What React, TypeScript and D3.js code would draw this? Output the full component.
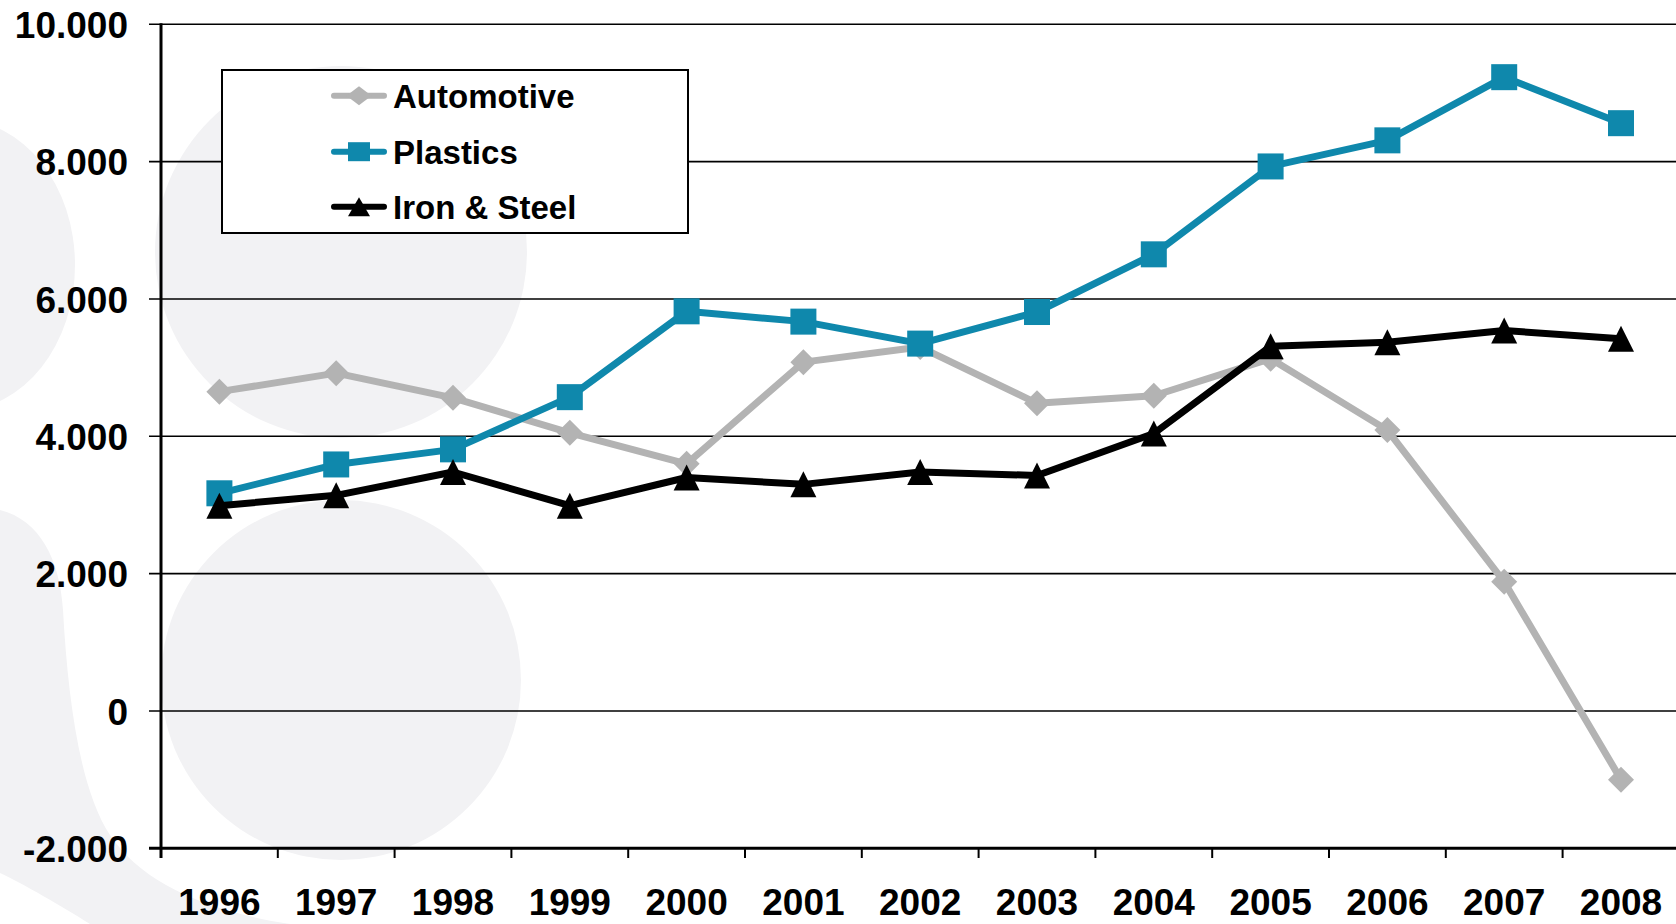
import React from "react";
import * as d3 from "d3";

const years = ["1996", "1997", "1998", "1999", "2000", "2001", "2002", "2003", "2004", "2005", "2006", "2007", "2008"];
const automotive = [4650, 4920, 4560, 4050, 3600, 5080, 5300, 4480, 4590, 5130, 4090, 1880, -1000];
const plastics = [3170, 3590, 3810, 4570, 5820, 5670, 5350, 5810, 6650, 7930, 8310, 9230, 8560];
const ironSteel = [2990, 3140, 3480, 2990, 3400, 3300, 3480, 3430, 4040, 5310, 5370, 5540, 5420];
const yTicks = [-2000, 0, 2000, 4000, 6000, 8000, 10000];
const seriesNames = ["Automotive", "Plastics", "Iron & Steel"];
const seriesColors = ["#b3b3b3", "#0f88ac", "#000000"];
const seriesShapes = ["diamond", "square", "triangle"];

const W = 1676;
const H = 924;
const FONT = "'Liberation Sans', Arial, Helvetica, sans-serif";

function fmt(v: number) {
  if (v === 0) return "0";
  const sign = v < 0 ? "-" : "";
  const a = Math.abs(v);
  return sign + d3.format(",")(a).replace(/,/g, ".");
}

function Marker({ shape, x, y, color, w, h }: { shape: string; x: number; y: number; color: string; w: number; h: number }) {
  if (shape === "square") {
    return <rect x={x - w / 2} y={y - h / 2} width={w} height={h} fill={color} />;
  }
  if (shape === "diamond") {
    return <path d={`M${x},${y - h / 2}L${x + w / 2},${y}L${x},${y + h / 2}L${x - w / 2},${y}Z`} fill={color} />;
  }
  return <path d={`M${x},${y - h / 2}L${x + w / 2},${y + h / 2}L${x - w / 2},${y + h / 2}Z`} fill={color} />;
}

export default function App() {
  const left = 161;
  const step = 116.8;
  const right = left + step * years.length;
  const x = d3.scaleBand<string>().domain(years).range([left, right]);
  const y = d3.scaleLinear().domain([-2000, 10000]).range([848.3, 24.3]);
  const cx = (yr: string) => (x(yr) as number) + x.bandwidth() / 2;

  const data = [automotive, plastics, ironSteel];
  const line = d3
    .line<number>()
    .x((_, i) => cx(years[i]))
    .y((d) => y(d));

  const bg = "#f2f2f4";
  const legendRows = [95.7, 151.7, 206.7];

  return (
    <svg width={W} height={H} style={{ position: "absolute", left: 0, top: 0, background: "#fff" }}>
      {/* decorative background */}
      <g fill={bg}>
        <circle cx={341} cy={252} r={186} />
        <circle cx={341} cy={680} r={180} />
        <ellipse cx={-40} cy={265} rx={115} ry={145} />
        <path d="M0,510 C40,520 60,560 63,610 C68,700 80,790 110,835 C140,880 200,910 290,924 L90,924 C60,905 25,885 0,873 Z" />
      </g>

      {/* gridlines */}
      {yTicks.map((t) => (
        <line key={"g" + t} x1={149} x2={W} y1={y(t)} y2={y(t)} stroke="#000" strokeWidth={t === -2000 ? 3 : 1.6} />
      ))}
      {/* y axis */}
      <line x1={left} x2={left} y1={y(10000) - 1} y2={858} stroke="#000" strokeWidth={3} />
      {/* x ticks */}
      {years.map((yr, i) => (
        <line key={"xt" + yr} x1={left + i * step} x2={left + i * step} y1={848} y2={858} stroke="#000" strokeWidth={2} />
      ))}
      {/* y labels */}
      {yTicks.map((t) => (
        <text
          key={"yl" + t}
          x={128}
          y={y(t)}
          dy="0.37em"
          textAnchor="end"
          fontFamily={FONT}
          fontWeight="bold"
          fontSize={37}
          fill="#000"
        >
          {fmt(t)}
        </text>
      ))}
      {/* x labels */}
      {years.map((yr) => (
        <text key={"xl" + yr} x={cx(yr)} y={915} textAnchor="middle" fontFamily={FONT} fontWeight="bold" fontSize={37} fill="#000">
          {yr}
        </text>
      ))}

      {/* series */}
      {data.map((vals, si) => (
        <g key={"s" + si}>
          <path d={line(vals) || ""} fill="none" stroke={seriesColors[si]} strokeWidth={7} strokeLinejoin="round" />
          {vals.map((v, i) => (
            <Marker key={i} shape={seriesShapes[si]} x={cx(years[i])} y={y(v)} color={seriesColors[si]} w={26} h={26} />
          ))}
        </g>
      ))}

      {/* legend */}
      <rect x={222} y={70} width={466} height={163} fill="#fff" stroke="#000" strokeWidth={2} />
      {seriesNames.map((n, i) => (
        <g key={"lg" + n}>
          <line x1={334} x2={384} y1={legendRows[i]} y2={legendRows[i]} stroke={seriesColors[i]} strokeWidth={6} strokeLinecap="round" />
          <Marker
            shape={seriesShapes[i]}
            x={359}
            y={legendRows[i]}
            color={seriesColors[i]}
            w={i === 0 ? 25 : 22}
            h={19}
          />
          <text x={393} y={legendRows[i]} dy="0.37em" fontFamily={FONT} fontWeight="bold" fontSize={33} fill="#000">
            {n}
          </text>
        </g>
      ))}
    </svg>
  );
}
